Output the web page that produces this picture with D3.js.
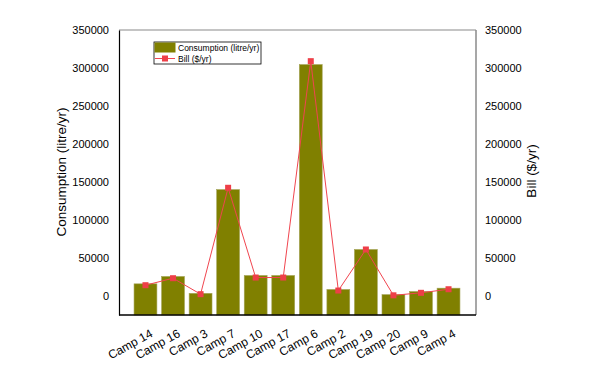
<!DOCTYPE html>
<html>
<head>
<meta charset="utf-8">
<script src="https://cdn.jsdelivr.net/npm/d3@7"></script>
<style>
  body { margin: 0; background: #fff; }
  text { font-family: "Liberation Sans", Arial, sans-serif; }
</style>
</head>
<body>
<svg id="chart" width="612" height="369"></svg>
<script>
// data
var camps = ["Camp 14", "Camp 16", "Camp 3", "Camp 7", "Camp 10", "Camp 17",
             "Camp 6", "Camp 2", "Camp 19", "Camp 20", "Camp 9", "Camp 4"];
var consumption = [16000, 25700, 3500, 140000, 27000, 27000,
                   304500, 8600, 61200, 1800, 5900, 10300];
var bill = [14200, 23400, 2400, 142400, 24300, 24300,
            309000, 7200, 61200, 900, 4200, 8900];
var yTicks = [0, 50000, 100000, 150000, 200000, 250000, 300000, 350000];

var svg = d3.select("#chart");
var pLeft = 119, pRight = 476, pTop = 30, pBottom = 315;

var x = d3.scaleBand().domain(camps).range([131.7, 462.3]).paddingInner(0.17).paddingOuter(0.085);
var y = d3.scaleLinear().domain([-25000, 350000]).range([pBottom, pTop]);
var y2 = d3.scaleLinear().domain([-25000, 350000]).range([pBottom, pTop]);

// bars (drawn up from the bottom of the plot)
svg.append("g").selectAll("rect")
  .data(camps)
  .enter().append("rect")
    .attr("x", function(d) { return x(d); })
    .attr("y", function(d, i) { return y(consumption[i]); })
    .attr("width", x.bandwidth())
    .attr("height", function(d, i) { return pBottom - y(consumption[i]); })
    .attr("fill", "#808000")
    .attr("stroke", "#a3a357")
    .attr("stroke-width", 0.6);

// bill line
var line = d3.line()
  .x(function(d, i) { return x(camps[i]) + x.bandwidth() / 2; })
  .y(function(d) { return y2(d); });
svg.append("path")
  .datum(bill)
  .attr("d", line)
  .attr("fill", "none")
  .attr("stroke", "#f0454f")
  .attr("stroke-width", 1);
svg.append("g").selectAll("rect")
  .data(bill)
  .enter().append("rect")
    .attr("x", function(d, i) { return x(camps[i]) + x.bandwidth() / 2 - 3; })
    .attr("y", function(d) { return y2(d) - 3; })
    .attr("width", 6)
    .attr("height", 6)
    .attr("fill", "#ee3f48");

// frame
svg.append("line").attr("x1", pLeft).attr("x2", pRight).attr("y1", pTop).attr("y2", pTop)
  .attr("stroke", "#8a8a8a").attr("stroke-width", 1.2);
svg.append("line").attr("x1", pRight).attr("x2", pRight).attr("y1", pTop).attr("y2", pBottom)
  .attr("stroke", "#8a8a8a").attr("stroke-width", 1.5);

// left axis
var gl = svg.append("g").attr("transform", "translate(" + pLeft + ",0)")
  .call(d3.axisLeft(y).tickValues(yTicks).tickSize(0).tickPadding(10).tickFormat(d3.format("d")));
gl.select(".domain").attr("stroke", "#000").attr("stroke-width", 1.2);
gl.selectAll("text").attr("font-size", 11).attr("fill", "#000");

// right axis
var gr = svg.append("g").attr("transform", "translate(" + pRight + ",0)")
  .call(d3.axisRight(y2).tickValues(yTicks).tickSize(0).tickPadding(9).tickFormat(d3.format("d")));
gr.select(".domain").remove();
gr.selectAll("text").attr("font-size", 11).attr("fill", "#000");

// bottom axis
var gb = svg.append("g").attr("transform", "translate(0," + pBottom + ")")
  .call(d3.axisBottom(x).tickSize(0).tickPadding(0));
gb.select(".domain").attr("d", "M" + pLeft + ",0H" + pRight).attr("stroke", "#000").attr("stroke-width", 1.5);
gb.selectAll("text")
  .attr("font-size", 12).attr("fill", "#000")
  .attr("text-anchor", "end")
  .attr("dy", 0)
  .attr("transform", "translate(8,21) rotate(-29)");

// axis titles
svg.append("text")
  .attr("transform", "translate(66,172) rotate(-90)")
  .attr("text-anchor", "middle")
  .attr("font-size", 13.5)
  .text("Consumption (litre/yr)");
svg.append("text")
  .attr("transform", "translate(536,171) rotate(-90)")
  .attr("text-anchor", "middle")
  .attr("font-size", 13.5)
  .text("Bill ($/yr)");

// legend
var lg = svg.append("g").attr("transform", "translate(154,42)");
lg.append("rect").attr("width", 107).attr("height", 22)
  .attr("fill", "#fff").attr("stroke", "#000").attr("stroke-width", 0.8);
lg.append("rect").attr("x", 0.5).attr("y", 0.5).attr("width", 21).attr("height", 10).attr("fill", "#808000");
lg.append("line").attr("x1", 1).attr("x2", 21).attr("y1", 16.5).attr("y2", 16.5)
  .attr("stroke", "#f0454f").attr("stroke-width", 1);
lg.append("rect").attr("x", 8).attr("y", 13.5).attr("width", 6).attr("height", 6).attr("fill", "#ee3f48");
lg.append("text").attr("x", 24).attr("y", 9).attr("font-size", 8.5).text("Consumption (litre/yr)");
lg.append("text").attr("x", 24).attr("y", 20).attr("font-size", 8.5).text("Bill ($/yr)");
</script>
</body>
</html>
